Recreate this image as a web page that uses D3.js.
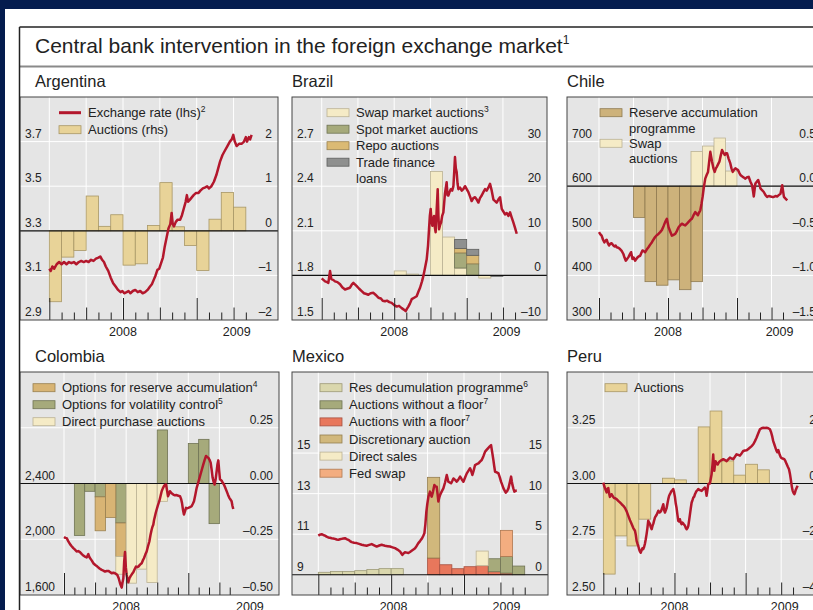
<!DOCTYPE html>
<html>
<head>
<meta charset="utf-8">
<script src="https://cdn.jsdelivr.net/npm/d3@7"></script>
<style>
  body { margin: 0; background: #041c4e; }
  svg { display: block; }
  text { font-family: "Liberation Sans", Arial, sans-serif; fill: #222; }
</style>
</head>
<body>
<div class="chart"></div>
<script>
// monthly bars, Jan 2008 .. May 2009
const months = ["2008-01","2008-02","2008-03","2008-04","2008-05","2008-06","2008-07","2008-08","2008-09",
                "2008-10","2008-11","2008-12","2009-01","2009-02","2009-03","2009-04","2009-05"];
const yearLabels = ["2008", "2009"];

// ---- Argentina ----
const argAuctions = [-1.59,-0.59,-0.44,0.78,0.1,0.36,-0.77,-0.74,0.12,1.08,0.09,-0.33,-0.89,0.26,0.86,0.53,0];
const argFx = [[0,3.13],[0.12,3.12],[0.25,3.14],[0.4,3.13],[0.6,3.15],[0.8,3.16],[1.0,3.15],[1.2,3.16],[1.4,3.15],[1.6,3.16],[1.8,3.155],[2.0,3.16],[2.2,3.15],[2.4,3.16],[2.6,3.165],[2.8,3.16],[3.0,3.165],[3.2,3.16],[3.4,3.17],[3.6,3.165],[3.8,3.175],[4.0,3.18],[4.15,3.185],[4.3,3.17],[4.45,3.16],[4.6,3.14],[4.8,3.12],[5.0,3.09],[5.2,3.065],[5.4,3.05],[5.6,3.035],[5.8,3.025],[5.95,3.03],[6.1,3.02],[6.3,3.025],[6.45,3.03],[6.6,3.02],[6.8,3.03],[7.0,3.035],[7.2,3.025],[7.4,3.03],[7.6,3.02],[7.8,3.025],[8.0,3.035],[8.2,3.05],[8.35,3.06],[8.5,3.08],[8.65,3.10],[8.8,3.125],[8.95,3.13],[9.1,3.155],[9.25,3.18],[9.4,3.23],[9.55,3.27],[9.7,3.31],[9.85,3.33],[9.96,3.38],[10.05,3.33],[10.15,3.32],[10.3,3.34],[10.45,3.35],[10.65,3.35],[10.8,3.37],[10.95,3.40],[11.1,3.43],[11.2,3.46],[11.3,3.43],[11.45,3.44],[11.6,3.45],[11.75,3.46],[11.95,3.47],[12.15,3.47],[12.3,3.48],[12.5,3.49],[12.7,3.495],[12.85,3.50],[13.0,3.49],[13.2,3.50],[13.4,3.52],[13.6,3.55],[13.75,3.58],[13.9,3.61],[14.1,3.64],[14.3,3.66],[14.5,3.68],[14.7,3.70],[14.85,3.71],[14.98,3.73],[15.1,3.70],[15.25,3.68],[15.45,3.69],[15.65,3.69],[15.85,3.70],[16.0,3.72],[16.1,3.70],[16.25,3.72],[16.35,3.71],[16.47,3.73]];
const argLhsTicks = [2.9, 3.1, 3.3, 3.5, 3.7];
const argRhsTicks = [-2, -1, 0, 1, 2];

// ---- Brazil ----
const braSwap  = [0,0,0,0,0,0,1.0,0.3,0,23.3,8.6,1.65,0,-0.6,0,0,0];
const braSpot  = [0,0,0,0,0,0,0,0,0,0,0,3.4,2.6,0,0,0,0];
const braRepo  = [0,0,0,0,0,0,0,0,0,0,0,1.0,1.9,0,0,0,0];
const braTrade = [0,0,0,0,0,0,0,0,0,0,0,2.0,1.35,0,-0.2,0,0];
const braFx = [[0,1.78],[0.14,1.77],[0.28,1.76],[0.45,1.755],[0.55,1.75],[0.69,1.83],[0.8,1.775],[0.95,1.77],[1.1,1.76],[1.3,1.755],[1.52,1.74],[1.7,1.72],[1.93,1.705],[2.1,1.71],[2.34,1.717],[2.5,1.74],[2.62,1.75],[2.75,1.74],[2.9,1.728],[3.1,1.71],[3.31,1.694],[3.5,1.68],[3.7,1.675],[3.86,1.67],[4.05,1.68],[4.28,1.683],[4.45,1.67],[4.69,1.65],[4.9,1.645],[5.05,1.63],[5.24,1.626],[5.4,1.63],[5.6,1.62],[5.79,1.615],[6.0,1.60],[6.21,1.59],[6.4,1.595],[6.62,1.58],[6.8,1.57],[6.95,1.56],[7.05,1.575],[7.17,1.59],[7.3,1.61],[7.45,1.64],[7.65,1.65],[7.86,1.66],[8.0,1.69],[8.14,1.717],[8.3,1.76],[8.41,1.795],[8.55,1.85],[8.69,1.908],[8.8,2.0],[8.88,2.11],[8.95,2.20],[9.02,2.247],[9.09,2.16],[9.16,2.134],[9.23,2.18],[9.3,2.2],[9.37,2.12],[9.43,2.09],[9.52,2.25],[9.6,2.38],[9.66,2.2],[9.71,2.11],[9.8,2.14],[9.88,2.156],[9.97,2.2],[10.07,2.224],[10.2,2.35],[10.34,2.427],[10.41,2.34],[10.48,2.337],[10.58,2.36],[10.68,2.38],[10.8,2.37],[10.9,2.40],[10.97,2.50],[11.03,2.596],[11.1,2.52],[11.17,2.495],[11.24,2.42],[11.31,2.38],[11.45,2.39],[11.59,2.37],[11.72,2.38],[11.86,2.40],[12.0,2.38],[12.14,2.36],[12.28,2.33],[12.41,2.30],[12.55,2.32],[12.69,2.326],[12.83,2.31],[12.97,2.29],[13.1,2.32],[13.24,2.337],[13.38,2.36],[13.52,2.38],[13.65,2.37],[13.79,2.39],[13.93,2.416],[14.07,2.37],[14.21,2.31],[14.35,2.30],[14.48,2.29],[14.62,2.31],[14.76,2.326],[14.9,2.247],[15.03,2.23],[15.17,2.21],[15.31,2.22],[15.45,2.20],[15.59,2.224],[15.72,2.19],[15.86,2.156],[16.0,2.12],[16.14,2.08]];
const braLhsTicks = [1.5, 1.8, 2.1, 2.4, 2.7];
const braRhsTicks = [-10, 0, 10, 20, 30];

// ---- Chile ----
const chiReserve = [0,0,0,-0.35,-1.07,-1.11,-1.05,-1.16,-1.07,0,0,0,0,0,0,0,0];
const chiSwap    = [0,0,0,0,0,0,0,0,0.39,0.45,0.54,0.17,0,0,0,0,0];
const chiFx = [[0,497],[0.12,492],[0.23,489],[0.35,480],[0.47,474],[0.57,478],[0.67,480],[0.77,472],[0.87,467],[0.98,471],[1.1,472],[1.22,468],[1.34,465],[1.45,467],[1.54,463],[1.68,462],[1.83,459],[1.97,455],[2.12,448],[2.22,440],[2.33,433],[2.45,437],[2.56,441],[2.68,447],[2.79,452],[2.91,437],[3.02,440],[3.14,433],[3.25,437],[3.37,441],[3.48,443],[3.58,444],[3.68,450],[3.78,456],[3.9,454],[4.01,452],[4.15,458],[4.3,463],[4.45,469],[4.59,474],[4.73,480],[4.88,486],[5.02,490],[5.17,493],[5.32,497],[5.47,502],[5.62,511],[5.76,520],[5.9,527],[6.05,508],[6.2,498],[6.34,489],[6.48,491],[6.63,493],[6.78,500],[6.92,508],[7.06,512],[7.21,516],[7.35,514],[7.5,512],[7.65,516],[7.79,520],[7.93,524],[8.08,527],[8.22,535],[8.37,542],[8.5,538],[8.6,535],[8.7,541],[8.81,546],[8.91,560],[9.01,576],[9.12,598],[9.24,617],[9.36,625],[9.48,632],[9.58,655],[9.68,677],[9.76,665],[9.83,655],[9.95,640],[10.06,632],[10.16,640],[10.26,644],[10.37,650],[10.47,655],[10.58,668],[10.7,681],[10.82,675],[10.93,670],[11.03,674],[11.13,674],[11.27,662],[11.42,651],[11.52,640],[11.63,632],[11.75,637],[11.86,640],[11.98,638],[12.09,636],[12.2,630],[12.3,625],[12.4,623],[12.5,621],[12.62,619],[12.73,617],[12.88,620],[13.02,621],[13.17,610],[13.31,602],[13.4,588],[13.46,577],[13.53,592],[13.6,606],[13.72,610],[13.84,614],[13.94,606],[14.04,595],[14.18,591],[14.33,587],[14.48,580],[14.62,576],[14.77,578],[14.91,577],[15.05,576],[15.2,576],[15.35,578],[15.49,577],[15.63,580],[15.78,583],[15.93,602],[16.0,590],[16.08,576],[16.22,572],[16.37,568]];
const chiLhsTicks = [300, 400, 500, 600, 700];
const chiRhsTicks = [-1.5, -1.0, -0.5, 0.0, 0.5];

// ---- Colombia ----
const colVolatility = [0,-0.233,-0.035,-0.06,0,-0.177,0,0,0,0.24,0,0,0.179,0.198,-0.18,0,0];
const colReserve    = [0,0,0,-0.152,-0.152,-0.15,0,0,0,0,0,0,0,0,0,0,0];
const colDirect     = [0,0,0,0,0,-0.08,-0.447,-0.384,-0.444,-0.08,0,0,0,0,0,0,0];
const colFx = [[0,2016],[0.13,2010],[0.26,2008],[0.42,1985],[0.58,1965],[0.74,1950],[0.9,1936],[1.06,1925],[1.22,1912],[1.38,1915],[1.54,1908],[1.7,1895],[1.87,1883],[2.03,1875],[2.19,1869],[2.35,1893],[2.46,1870],[2.57,1859],[2.7,1845],[2.83,1828],[3.02,1815],[3.22,1804],[3.43,1790],[3.64,1780],[3.8,1775],[3.96,1768],[4.12,1772],[4.28,1773],[4.44,1765],[4.6,1756],[4.76,1760],[4.92,1756],[5.04,1750],[5.15,1744],[5.28,1720],[5.41,1684],[5.49,1668],[5.57,1653],[5.65,1690],[5.73,1720],[5.81,1840],[5.89,1908],[5.97,1800],[6.05,1744],[6.13,1715],[6.21,1691],[6.32,1720],[6.43,1735],[6.56,1750],[6.69,1763],[6.82,1785],[6.95,1804],[7.07,1800],[7.18,1804],[7.34,1818],[7.5,1828],[7.61,1848],[7.72,1864],[7.85,1890],[7.98,1912],[8.11,1950],[8.24,1984],[8.35,2030],[8.46,2068],[8.54,2090],[8.62,2104],[8.7,2140],[8.78,2164],[8.86,2190],[8.94,2212],[9.07,2245],[9.2,2273],[9.32,2310],[9.43,2345],[9.54,2365],[9.65,2381],[9.75,2390],[9.85,2393],[9.95,2350],[10.04,2309],[10.14,2325],[10.23,2345],[10.39,2330],[10.55,2321],[10.72,2315],[10.88,2317],[11.04,2312],[11.2,2309],[11.3,2290],[11.39,2261],[11.49,2210],[11.58,2177],[11.68,2200],[11.78,2225],[11.89,2222],[12.0,2225],[12.16,2230],[12.32,2237],[12.44,2255],[12.55,2273],[12.68,2320],[12.81,2369],[12.97,2410],[13.13,2453],[13.29,2495],[13.45,2537],[13.58,2570],[13.71,2597],[13.82,2590],[13.93,2585],[14.05,2570],[14.16,2549],[14.26,2495],[14.35,2441],[14.45,2410],[14.54,2393],[14.64,2430],[14.74,2490],[14.82,2540],[14.9,2566],[14.98,2490],[15.06,2429],[15.14,2425],[15.22,2420],[15.33,2405],[15.44,2393],[15.57,2370],[15.7,2345],[15.83,2320],[15.96,2297],[16.07,2285],[16.18,2273],[16.26,2240],[16.34,2217]];
const colLhsTicks = [1600, 2000, 2400];
const colRhsTicks = [-0.5, -0.25, 0, 0.25];

// ---- Mexico ----
const mexResDecum   = [0.3,0.4,0.4,0.5,0.65,0.75,0.75,0,0,0,0,0,0,0,0,0,0];
const mexWithFloor  = [0,0,0,0,0,0,0,0,0,2.06,1.23,0.74,0.99,1.11,0.37,0.2,0];
const mexNoFloor    = [0,0,0,0,0,0,0,0,0,0,0,0,0,0,1.6,2.06,1.07];
const mexDiscretion = [0,0,0,0,0,0,0,0,0,9.95,0,0,0,0,0,0,0];
const mexDirect     = [0,0,0,0,0,0,0,0,0,0,0,0,0,1.81,0,0,0];
const mexFedSwap    = [0,0,0,0,0,0,0,0,0,0,0,0,0,0,0,3.21,0];
const mexFx = [[0,10.93],[0.14,10.98],[0.27,11.0],[0.41,10.96],[0.55,10.93],[0.68,10.88],[0.82,10.84],[0.96,10.82],[1.1,10.80],[1.23,10.79],[1.37,10.77],[1.51,10.74],[1.65,10.72],[1.78,10.75],[1.92,10.77],[2.06,10.79],[2.2,10.80],[2.33,10.76],[2.47,10.72],[2.61,10.66],[2.75,10.61],[2.95,10.58],[3.16,10.56],[3.36,10.52],[3.57,10.48],[3.77,10.45],[3.98,10.43],[4.19,10.47],[4.4,10.51],[4.6,10.45],[4.81,10.39],[5.02,10.44],[5.22,10.48],[5.36,10.45],[5.49,10.43],[5.7,10.41],[5.91,10.39],[6.11,10.35],[6.32,10.31],[6.52,10.24],[6.73,10.15],[6.83,10.06],[6.92,9.98],[7.03,10.05],[7.14,10.11],[7.28,10.09],[7.42,10.07],[7.55,10.12],[7.69,10.18],[7.83,10.24],[7.97,10.31],[8.1,10.42],[8.24,10.56],[8.38,10.66],[8.52,10.77],[8.63,10.9],[8.74,11.05],[8.82,11.5],[8.9,12.11],[8.98,12.5],[9.07,12.85],[9.13,12.95],[9.2,13.10],[9.27,12.95],[9.34,12.85],[9.45,13.1],[9.56,13.43],[9.65,13.35],[9.75,13.34],[9.82,13.0],[9.89,12.61],[9.96,12.8],[10.03,12.93],[10.16,13.1],[10.3,13.26],[10.44,13.55],[10.58,13.92],[10.65,13.75],[10.71,13.59],[10.82,13.55],[10.93,13.51],[11.03,13.62],[11.13,13.75],[11.27,13.68],[11.4,13.59],[11.54,13.7],[11.68,13.84],[11.82,13.7],[11.95,13.59],[12.09,13.8],[12.23,14.0],[12.36,14.12],[12.5,14.25],[12.6,14.1],[12.69,13.92],[12.8,14.15],[12.91,14.41],[13.05,14.45],[13.19,14.49],[13.32,14.58],[13.46,14.66],[13.6,14.85],[13.74,15.07],[13.88,15.17],[14.01,15.26],[14.12,15.33],[14.23,15.39],[14.32,15.05],[14.42,14.66],[14.49,14.35],[14.56,14.08],[14.7,14.05],[14.84,14.0],[14.95,13.8],[15.05,13.59],[15.15,13.43],[15.25,13.26],[15.35,13.15],[15.44,13.05],[15.55,13.12],[15.66,13.26],[15.77,13.55],[15.88,13.84],[15.94,13.6],[15.99,13.43],[16.07,13.25],[16.15,13.10],[16.25,13.14],[16.35,13.15]];
const mexLhsTicks = [9, 11, 13, 15];
const mexRhsTicks = [0, 5, 10, 15];

// ---- Peru ----
const peruAuctions = [-3.25,-1.88,-2.24,-1.28,0,0.19,0.13,0,2.03,2.6,0.81,0.3,0.69,0.49,0,0,0];
const peruFx = [[0,3.004],[0.07,2.99],[0.14,2.98],[0.21,2.97],[0.28,2.96],[0.35,2.975],[0.42,2.98],[0.49,2.955],[0.56,2.94],[0.63,2.95],[0.7,2.952],[0.77,2.945],[0.84,2.94],[0.91,2.935],[0.98,2.934],[1.12,2.93],[1.26,2.922],[1.4,2.915],[1.55,2.907],[1.69,2.9],[1.83,2.89],[1.97,2.875],[2.11,2.855],[2.25,2.835],[2.39,2.818],[2.53,2.8],[2.67,2.788],[2.74,2.77],[2.81,2.743],[2.88,2.73],[2.95,2.72],[3.02,2.705],[3.09,2.695],[3.16,2.69],[3.23,2.70],[3.3,2.71],[3.37,2.706],[3.44,2.715],[3.51,2.73],[3.58,2.75],[3.65,2.773],[3.72,2.8],[3.79,2.833],[3.86,2.825],[3.93,2.82],[4.0,2.805],[4.08,2.795],[4.15,2.81],[4.22,2.82],[4.29,2.835],[4.36,2.848],[4.5,2.86],[4.64,2.878],[4.75,2.87],[4.86,2.875],[4.96,2.89],[5.06,2.907],[5.13,2.88],[5.2,2.87],[5.27,2.88],[5.34,2.89],[5.41,2.91],[5.48,2.93],[5.55,2.945],[5.62,2.952],[5.69,2.96],[5.76,2.967],[5.83,2.97],[5.9,2.975],[5.97,2.96],[6.04,2.94],[6.11,2.91],[6.18,2.89],[6.25,2.86],[6.32,2.833],[6.39,2.83],[6.46,2.84],[6.53,2.825],[6.6,2.818],[6.67,2.825],[6.75,2.82],[6.82,2.815],[6.89,2.81],[6.96,2.80],[7.03,2.795],[7.1,2.80],[7.17,2.81],[7.24,2.835],[7.31,2.863],[7.38,2.89],[7.45,2.915],[7.52,2.925],[7.59,2.937],[7.66,2.94],[7.73,2.952],[7.8,2.96],[7.87,2.967],[7.94,2.97],[8.01,2.975],[8.15,2.97],[8.29,2.967],[8.43,2.975],[8.57,2.982],[8.64,2.97],[8.71,2.945],[8.78,2.97],[8.85,2.997],[8.92,3.0],[8.99,3.0],[9.06,3.02],[9.13,3.04],[9.2,3.08],[9.27,3.13],[9.31,3.09],[9.36,3.057],[9.41,3.08],[9.47,3.10],[9.55,3.09],[9.64,3.085],[9.74,3.095],[9.84,3.10],[9.98,3.105],[10.12,3.109],[10.26,3.105],[10.4,3.10],[10.54,3.108],[10.68,3.116],[10.82,3.112],[10.96,3.109],[11.1,3.12],[11.24,3.131],[11.38,3.128],[11.52,3.125],[11.66,3.135],[11.8,3.146],[11.94,3.148],[12.09,3.149],[12.23,3.155],[12.37,3.161],[12.51,3.168],[12.65,3.176],[12.79,3.19],[12.93,3.206],[13.07,3.225],[13.21,3.243],[13.35,3.248],[13.49,3.25],[13.63,3.249],[13.77,3.25],[13.91,3.248],[14.05,3.243],[14.15,3.23],[14.25,3.21],[14.33,3.19],[14.42,3.176],[14.52,3.16],[14.61,3.146],[14.68,3.14],[14.76,3.15],[14.87,3.13],[14.98,3.116],[15.12,3.112],[15.26,3.109],[15.36,3.1],[15.46,3.087],[15.56,3.075],[15.66,3.064],[15.75,3.04],[15.83,3.012],[15.9,2.985],[15.97,2.967],[16.04,2.958],[16.11,2.952],[16.17,2.96],[16.22,2.97],[16.3,2.98],[16.39,2.99]];
const peruLhsTicks = [2.5, 2.75, 3.0, 3.25];
const peruRhsTicks = [-4, -2, 0, 2];

// ---- colours ----
const red = "#b3172c";
const tan = ["#e8d398", "#a89766"];
const cream = ["#f5ebc6", "#bbb294"];
const olive = ["#a6aa7b", "#6f7354"];

const fmt = f => v => d3.format(f)(v).replace("−", "–");

const panels = [
  { title: "Argentina", box: [20, 97, 278, 320], jan08: 49.3, jan09: 196.7,
    lhs: [2.9, 3.9], rhs: [-2, 3], lhsTicks: argLhsTicks, rhsTicks: argRhsTicks,
    lhsFmt: fmt(".1f"), rhsFmt: fmt("d"), fx: argFx, nTicks: 17, years: [6, 15.26], tall: 22,
    bars: [{ key: "Auctions (rhs)", values: argAuctions, color: tan }],
    legend: { x: 59, y: 112.7, step: 17, items: [
      { type: "line", lines: ["Exchange rate (lhs)"], sup: "2" },
      { type: "box", color: tan, lines: ["Auctions (rhs)"] } ] } },
  { title: "Brazil", box: [292, 97, 547, 320], jan08: 321.7, jan09: 466.7,
    lhs: [1.5, 3.0], rhs: [-10, 40], lhsTicks: braLhsTicks, rhsTicks: braRhsTicks,
    lhsFmt: fmt(".1f"), rhsFmt: fmt("d"), fx: braFx, nTicks: 17, years: [6, 15.3], tall: 22,
    bars: [
      { key: "swap", values: braSwap, color: cream },
      { key: "spot", values: braSpot, color: olive },
      { key: "repo", values: braRepo, color: ["#dbba74", "#9b8352"] },
      { key: "trade", values: braTrade, color: ["#8f908f", "#5e5f5e"] } ],
    legend: { x: 327, y: 112.7, step: 16.5, items: [
      { type: "box", color: cream, lines: ["Swap market auctions"], sup: "3" },
      { type: "box", color: olive, lines: ["Spot market auctions"] },
      { type: "box", color: ["#dbba74", "#9b8352"], lines: ["Repo auctions"] },
      { type: "box", color: ["#8f908f", "#5e5f5e"], lines: ["Trade finance", "loans"] } ] } },
  { title: "Chile", box: [567, 97, 822, 320], jan08: 599, jan09: 737,
    lhs: [300, 800], rhs: [-1.5, 1.0], lhsTicks: chiLhsTicks, rhsTicks: chiRhsTicks,
    lhsFmt: fmt("d"), rhsFmt: fmt(".1f"), fx: chiFx, nTicks: 17, years: [6, 15.7], tall: 22,
    bars: [
      { key: "reserve", values: chiReserve, color: ["#cdb27b", "#8f7b52"] },
      { key: "swap", values: chiSwap, color: cream } ],
    legend: { x: 600, y: 112.7, step: 15.3, items: [
      { type: "box", color: ["#cdb27b", "#8f7b52"], lines: ["Reserve accumulation", "programme"] },
      { type: "box", color: cream, lines: ["Swap", "auctions"] } ] } },
  { title: "Colombia", box: [20, 372, 279, 595], jan08: 64, jan09: 188.3,
    lhs: [1600, 3200], rhs: [-0.5, 0.5], lhsTicks: colLhsTicks, rhsTicks: colRhsTicks,
    lhsFmt: fmt(",d"), rhsFmt: fmt(".2f"), fx: colFx, nTicks: 17, years: [6, 17.95], tall: 22,
    gridValues: [0.25, -0.25],
    bars: [
      { key: "vol", values: colVolatility, color: olive },
      { key: "res", values: colReserve, color: ["#d8b474", "#9a8050"] },
      { key: "direct", values: colDirect, color: cream } ],
    legend: { x: 33, y: 387.7, step: 17, items: [
      { type: "box", color: ["#d8b474", "#9a8050"], lines: ["Options for reserve accumulation"], sup: "4" },
      { type: "box", color: olive, lines: ["Options for volatility control"], sup: "5" },
      { type: "box", color: cream, lines: ["Direct purchase auctions"] } ] } },
  { title: "Mexico", box: [292, 372, 548, 595], jan08: 318.3, jan09: 464,
    lhs: [8, 19], rhs: [-2.5, 25], lhsTicks: mexLhsTicks, rhsTicks: mexRhsTicks,
    lhsFmt: fmt("d"), rhsFmt: fmt("d"), fx: mexFx, nTicks: 18, years: [6.2, 15.5], tall: 20,
    bars: [
      { key: "res", values: mexResDecum, color: ["#dad7ad", "#9d9a78"] },
      { key: "floor", values: mexWithFloor, color: ["#e8775c", "#a65040"] },
      { key: "nofloor", values: mexNoFloor, color: olive },
      { key: "disc", values: mexDiscretion, color: ["#d1b87c", "#957f50"] },
      { key: "direct", values: mexDirect, color: cream },
      { key: "fed", values: mexFedSwap, color: ["#f3ad80", "#b07850"] } ],
    legend: { x: 320, y: 387.7, step: 17.1, items: [
      { type: "box", color: ["#dad7ad", "#9d9a78"], lines: ["Res decumulation programme"], sup: "6" },
      { type: "box", color: olive, lines: ["Auctions without a floor"], sup: "7" },
      { type: "box", color: ["#e8775c", "#a65040"], lines: ["Auctions with a floor"], sup: "7" },
      { type: "box", color: ["#d1b87c", "#957f50"], lines: ["Discretionary auction"] },
      { type: "box", color: cream, lines: ["Direct sales"] },
      { type: "box", color: ["#f3ad80", "#b07850"], lines: ["Fed swap"] } ] } },
  { title: "Peru", box: [567, 372, 822, 595], jan08: 603.3, jan09: 745.6,
    lhs: [2.5, 3.5], rhs: [-4, 4], lhsTicks: peruLhsTicks, rhsTicks: peruRhsTicks,
    lhsFmt: fmt(".2f"), rhsFmt: fmt("d"), fx: peruFx, nTicks: 17, years: [6, 15.3], tall: 22,
    bars: [{ key: "Auctions", values: peruAuctions, color: tan }],
    legend: { x: 605, y: 387.7, step: 17, items: [
      { type: "box", color: tan, lines: ["Auctions"] } ] } }
];

const width = 813, height = 610;
const svg = d3.select(".chart").append("svg")
  .attr("width", width)
  .attr("height", height);

svg.append("rect").attr("x", 5).attr("y", 9).attr("width", width).attr("height", height).attr("fill", "#fff");

// title block
svg.append("line").attr("x1", 19.5).attr("x2", width).attr("y1", 27).attr("y2", 27)
  .attr("stroke", "#222").attr("stroke-width", 1.5);
svg.append("line").attr("x1", 19.5).attr("x2", width).attr("y1", 66.5).attr("y2", 66.5)
  .attr("stroke", "#8a8a8a").attr("stroke-width", 2);
const title = svg.append("text").attr("x", 35).attr("y", 53.3).attr("font-size", "21px")
  .text("Central bank intervention in the foreign exchange market");
title.append("tspan").attr("dy", -9).attr("font-size", "12px").text("1");

function drawPanel(p) {
  const [x0, y0, x1, y1] = p.box;
  const g = svg.append("g");

  svg.append("text").attr("x", x0 === 20 ? 35 : x0).attr("y", y0 - 10)
    .attr("font-size", "16.5px").text(p.title);

  g.append("rect").attr("x", x0).attr("y", y0).attr("width", x1 - x0).attr("height", y1 - y0)
    .attr("fill", "#e5e5e5");

  const x = d3.scaleLinear().domain([0, 12]).range([p.jan08, p.jan09]);
  const yL = d3.scaleLinear().domain(p.lhs).range([y1, y0]);
  const yR = d3.scaleLinear().domain(p.rhs).range([y1, y0]);
  const tickMonths = d3.range(p.nTicks);

  // grid
  g.selectAll(".vgrid").data(tickMonths.filter(m => m % 3 === 0 && m < 16)).join("line")
    .attr("x1", d => x(d)).attr("x2", d => x(d)).attr("y1", y0).attr("y2", y1)
    .attr("stroke", "#fff").attr("stroke-width", 1);
  const gridVals = p.gridValues ? p.gridValues.map(v => yR(v))
    : p.lhsTicks.map(v => yL(v)).filter(y => y < y1 - 2 && Math.abs(y - yR(0)) > 1);
  g.selectAll(".hgrid").data(gridVals).join("line")
    .attr("x1", x0).attr("x2", x1).attr("y1", d => d).attr("y2", d => d)
    .attr("stroke", "#fff").attr("stroke-width", 1);

  // bars
  const rows = months.map((m, i) => {
    const r = { i };
    p.bars.forEach(b => r[b.key] = b.values[i]);
    return r;
  });
  const series = d3.stack().keys(p.bars.map(b => b.key)).offset(d3.stackOffsetDiverging)(rows);
  series.forEach((s, k) => {
    g.append("g").selectAll("rect").data(s.filter(d => d[1] !== d[0])).join("rect")
      .attr("x", d => x(d.data.i))
      .attr("width", d => x(d.data.i + 1) - x(d.data.i))
      .attr("y", d => yR(Math.max(d[0], d[1])))
      .attr("height", d => Math.abs(yR(d[0]) - yR(d[1])))
      .attr("fill", p.bars[k].color[0])
      .attr("stroke", p.bars[k].color[1])
      .attr("stroke-width", 0.8);
  });

  // zero line
  g.append("line").attr("x1", x0).attr("x2", x1).attr("y1", yR(0)).attr("y2", yR(0))
    .attr("stroke", "#111").attr("stroke-width", 1.2);

  // exchange rate
  g.append("path").datum(p.fx)
    .attr("d", d3.line().x(d => x(d[0])).y(d => yL(d[1])))
    .attr("fill", "none").attr("stroke", red).attr("stroke-width", 2.5)
    .attr("stroke-linejoin", "round");

  // x ticks
  const ax = g.append("g").attr("transform", `translate(0,${y1})`)
    .call(d3.axisTop(x).tickValues(tickMonths).tickSize(7.5).tickFormat(""));
  ax.select(".domain").remove();
  ax.selectAll(".tick line")
    .attr("y2", d => -(d % 6 === 0 ? p.tall : d % 3 === 0 ? 12.5 : 7.5))
    .attr("stroke", "#222");

  g.selectAll(".year").data(p.years).join("text")
    .attr("x", d => x(d)).attr("y", y1 + 16)
    .attr("text-anchor", "middle").attr("font-size", "12.5px")
    .text((d, i) => yearLabels[i]);

  // y labels
  const la = g.append("g").attr("transform", `translate(${x0},0)`)
    .call(d3.axisRight(yL).tickValues(p.lhsTicks).tickSize(0).tickFormat(p.lhsFmt));
  la.select(".domain").remove();
  la.attr("font-family", null).attr("font-size", null);
  la.selectAll("text").attr("x", 5).attr("dy", -4.5).attr("font-size", "12px").attr("fill", "#2a2a2a");

  const ra = g.append("g").attr("transform", `translate(${x1 - 6},0)`)
    .call(d3.axisLeft(yR).tickValues(p.rhsTicks).tickSize(0).tickFormat(p.rhsFmt));
  ra.select(".domain").remove();
  ra.attr("font-family", null).attr("font-size", null);
  ra.selectAll("text").attr("x", 0).attr("dy", -4.5).attr("font-size", "12px").attr("fill", "#2a2a2a");

  // legend
  const L = p.legend;
  let row = 0;
  L.items.forEach(it => {
    const cy = L.y + row * L.step;
    if (it.type === "line") {
      g.append("line").attr("x1", L.x).attr("x2", L.x + 22).attr("y1", cy).attr("y2", cy)
        .attr("stroke", red).attr("stroke-width", 3);
    } else {
      g.append("rect").attr("x", L.x).attr("y", cy - 4).attr("width", 22).attr("height", 8)
        .attr("fill", it.color[0]).attr("stroke", it.color[1]).attr("stroke-width", 0.8);
    }
    it.lines.forEach((ln, j) => {
      const t = g.append("text").attr("x", L.x + 29).attr("y", cy + j * L.step + 4.5)
        .attr("font-size", "13px").text(ln);
      if (it.sup && j === 0) t.append("tspan").attr("dy", -5).attr("font-size", "8.5px").text(it.sup);
    });
    row += it.lines.length;
  });

  // border
  g.append("rect").attr("x", x0).attr("y", y0).attr("width", x1 - x0).attr("height", y1 - y0)
    .attr("fill", "none").attr("stroke", "#444").attr("stroke-width", 1);
}

panels.forEach(drawPanel);

// left frame line
svg.append("line").attr("x1", 19.5).attr("x2", 19.5).attr("y1", 27).attr("y2", height)
  .attr("stroke", "#222").attr("stroke-width", 1.5);
</script>
</body>
</html>
